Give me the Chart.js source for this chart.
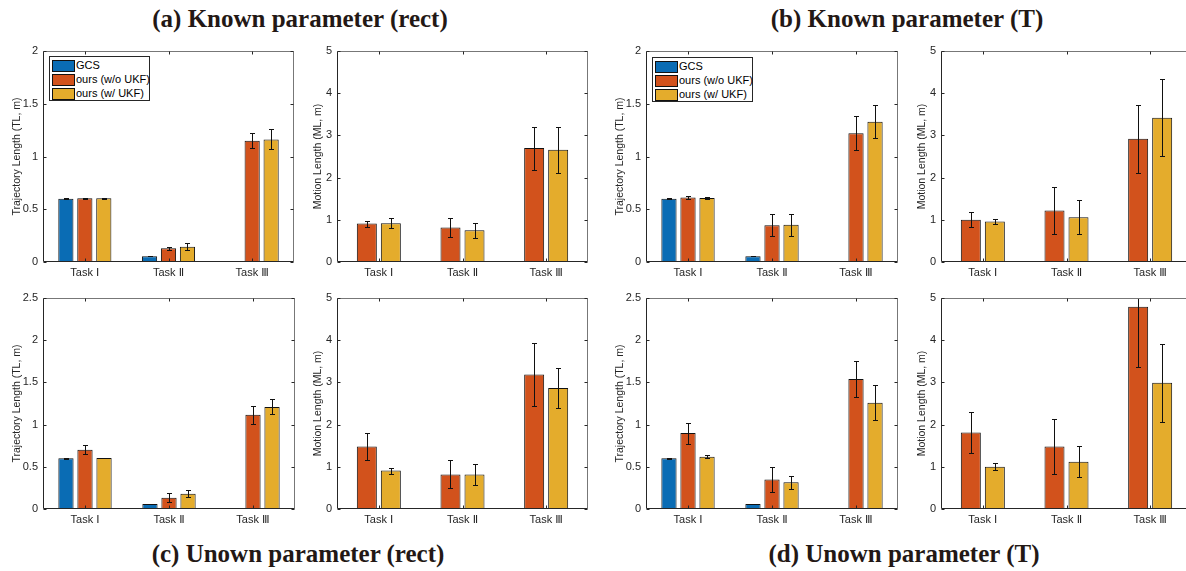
<!DOCTYPE html>
<html>
<head>
<meta charset="utf-8">
<script src="https://cdn.jsdelivr.net/npm/chart.js@4.4.1/dist/chart.umd.min.js"></script>
<style>
  body { margin: 0; width: 1186px; height: 571px; overflow: hidden; background: #fff; position: relative; }
  .panel { position: absolute; }
  .title { position: absolute; width: 600px; text-align: center; font-family: 'Liberation Serif', 'Times New Roman', serif;
           font-weight: bold; font-size: 25px; color: #231815; line-height: 1; }
  .legend { position: absolute; width: 99px; height: 43px; border: 1px solid #262626; background: #fff;
            font-family: 'Liberation Sans', Arial, sans-serif; font-size: 11px; color: #000; }
  .legend .row { position: absolute; left: 2px; height: 13px; line-height: 13px; white-space: nowrap; }
  .legend .sw { display: inline-block; width: 21px; height: 10px; border: 1px solid #111; vertical-align: top; margin-top: 1px; margin-right: 1px; }
</style>
</head>
<body>
<div class="title" style="left:0px;top:6px">(a) Known parameter (rect)</div>
<div class="title" style="left:607px;top:6px">(b) Known parameter (T)</div>
<div class="title" style="left:-2px;top:541px">(c) Unown parameter (rect)</div>
<div class="title" style="left:604px;top:541px">(d) Unown parameter (T)</div>

<script>
// ---- data ----
const tasks = ['Task Ⅰ', 'Task Ⅱ', 'Task Ⅲ'];
const names = ['GCS', 'ours (w/o UKF)', 'ours (w/ UKF)'];
const colors = ['#0a6cb4', '#d2521c', '#e4ac2c'];

// (a) known parameter (rect)
const aTL_gcs = [0.600, 0.055, 0.002];
const aTL_gcsErr = [0.003, 0.002, 0];
const aTL_wo = [0.604, 0.130, 1.150];
const aTL_woErr = [0.006, 0.012, 0.070];
const aTL_w = [0.604, 0.145, 1.162];
const aTL_wErr = [0.006, 0.033, 0.095];
const aML_wo = [0.91, 0.82, 2.70];
const aML_woErr = [0.07, 0.23, 0.51];
const aML_w = [0.92, 0.75, 2.66];
const aML_wErr = [0.12, 0.17, 0.55];

// (b) known parameter (T)
const bTL_gcs = [0.600, 0.055, 0.002];
const bTL_gcsErr = [0.003, 0.002, 0];
const bTL_wo = [0.612, 0.348, 1.220];
const bTL_woErr = [0.018, 0.105, 0.160];
const bTL_w = [0.606, 0.354, 1.330];
const bTL_wErr = [0.008, 0.105, 0.155];
const bML_wo = [1.00, 1.22, 2.92];
const bML_woErr = [0.18, 0.56, 0.80];
const bML_w = [0.96, 1.06, 3.42];
const bML_wErr = [0.06, 0.40, 0.91];

// (c) unknown parameter (rect)
const cTL_gcs = [0.600, 0.059, 0.002];
const cTL_gcsErr = [0.003, 0.003, 0];
const cTL_wo = [0.703, 0.134, 1.118];
const cTL_woErr = [0.050, 0.050, 0.105];
const cTL_w = [0.604, 0.180, 1.210];
const cTL_wErr = [0.005, 0.040, 0.090];
const cML_wo = [1.48, 0.82, 3.19];
const cML_woErr = [0.32, 0.33, 0.74];
const cML_w = [0.91, 0.82, 2.87];
const cML_wErr = [0.07, 0.24, 0.48];

// (d) unknown parameter (T)
const dTL_gcs = [0.600, 0.060, 0.002];
const dTL_gcsErr = [0.003, 0.003, 0];
const dTL_wo = [0.900, 0.351, 1.540];
const dTL_woErr = [0.124, 0.148, 0.215];
const dTL_w = [0.620, 0.316, 1.260];
const dTL_wErr = [0.020, 0.077, 0.207];
const dML_wo = [1.81, 1.48, 4.79];
const dML_woErr = [0.49, 0.66, 1.42];
const dML_w = [1.00, 1.12, 2.99];
const dML_wErr = [0.08, 0.37, 0.93];

const TL_TITLE = 'Trajectory Length (TL, m)';
const ML_TITLE = 'Motion Length (ML, m)';
const FONT = "'Liberation Sans', Arial, 'DejaVu Sans', sans-serif";
const AXIS = '#262626';

// error bars drawn from each bar element and the y scale
const errorBars = {
    id: 'errorBars',
    afterDatasetsDraw(chart) {
        const ctx = chart.ctx;
        const y = chart.scales.y;
        const a = chart.chartArea;
        ctx.save();
        ctx.beginPath();
        ctx.rect(a.left, a.top, a.right - a.left, a.bottom - a.top);
        ctx.clip();
        ctx.strokeStyle = '#111';
        ctx.lineWidth = 1;
        chart.data.datasets.forEach((ds, i) => {
            chart.getDatasetMeta(i).data.forEach((bar, j) => {
                const e = ds.errors[j];
                if (!e) return;
                const v = ds.data[j];
                const x = Math.round(bar.x) + 0.5;
                const top = Math.round(y.getPixelForValue(v + e)) + 0.5;
                const bot = Math.round(y.getPixelForValue(v - e)) + 0.5;
                ctx.beginPath();
                ctx.moveTo(x, top); ctx.lineTo(x, bot);
                ctx.moveTo(x - 2.5, top); ctx.lineTo(x + 2.5, top);
                ctx.moveTo(x - 2.5, bot); ctx.lineTo(x + 2.5, bot);
                ctx.stroke();
            });
        });
        ctx.restore();
    }
};

// MATLAB-style box with inward ticks
const boxAxes = {
    id: 'boxAxes',
    afterDraw(chart) {
        const ctx = chart.ctx;
        const a = chart.chartArea;
        const x = chart.scales.x, y = chart.scales.y;
        const L = Math.round(a.left) + 0.5, R = Math.round(a.right) - 0.5;
        const T = Math.round(a.top) + 0.5, B = Math.round(a.bottom) - 0.5;
        ctx.save();
        ctx.lineWidth = 1;
        ctx.strokeStyle = '#777';
        ctx.beginPath();
        ctx.moveTo(L, T); ctx.lineTo(R, T); ctx.lineTo(R, B);
        ctx.stroke();
        ctx.strokeStyle = AXIS;
        ctx.beginPath();
        ctx.moveTo(L, T); ctx.lineTo(L, B); ctx.lineTo(R, B);
        y.ticks.forEach(t => {
            const py = Math.round(y.getPixelForValue(t.value)) + 0.5;
            ctx.moveTo(L, py); ctx.lineTo(L + 3, py);
            ctx.moveTo(R, py); ctx.lineTo(R - 3, py);
        });
        chart.data.labels.forEach((_, i) => {
            const px = Math.round(x.getPixelForValue(i)) + 0.5;
            ctx.moveTo(px, T); ctx.lineTo(px, T + 3);
            ctx.moveTo(px, B); ctx.lineTo(px, B - 3);
        });
        ctx.stroke();
        ctx.restore();
    }
};

function bars(values, errors, color, label) {
    return { label, data: values, errors, backgroundColor: color, borderColor: '#111', borderWidth: 1, borderSkipped: false };
}

function makePanel(left, top, width, height, maxY, yTitle, datasets) {
    const yW = 43, padTop = 12, padRight = 10, xH = 24;
    const wrap = document.createElement('div');
    wrap.className = 'panel';
    wrap.style.left = (left - yW) + 'px';
    wrap.style.top = (top - padTop) + 'px';
    const canvas = document.createElement('canvas');
    canvas.width = yW + width + padRight;
    canvas.height = padTop + height + xH;
    wrap.appendChild(canvas);
    document.body.appendChild(wrap);

    const three = datasets.length === 3;
    new Chart(canvas, {
        type: 'bar',
        data: { labels: tasks, datasets },
        options: {
            responsive: false,
            animation: false,
            devicePixelRatio: 1,
            categoryPercentage: three ? 0.68 : 0.574,
            barPercentage: three ? 0.8 : 0.833,
            layout: { padding: { top: padTop, right: padRight, left: 0, bottom: 0 } },
            plugins: { legend: { display: false }, tooltip: { enabled: false } },
            scales: {
                x: {
                    grid: { display: false, drawTicks: false },
                    border: { display: false },
                    ticks: { color: AXIS, padding: 4, font: { family: FONT, size: 11 } },
                    afterFit: s => { s.height = xH; }
                },
                y: {
                    min: 0,
                    max: maxY,
                    ticks: { stepSize: maxY === 5 ? 1 : 0.5, color: AXIS, padding: 5, font: { family: FONT, size: 11 },
                             callback: v => String(Math.round(v * 10) / 10) },
                    grid: { display: false, drawTicks: false },
                    border: { display: false },
                    title: { display: true, text: yTitle, color: AXIS, font: { family: FONT, size: 10.5 },
                             padding: { top: yTitle === TL_TITLE ? 11 : 18, bottom: 0 } },
                    afterFit: s => { s.width = yW; }
                }
            }
        },
        plugins: [errorBars, boxAxes]
    });
}

function makeLegend(left, top) {
    const box = document.createElement('div');
    box.className = 'legend';
    box.style.left = left + 'px';
    box.style.top = top + 'px';
    names.forEach((n, i) => {
        const row = document.createElement('div');
        row.className = 'row';
        row.style.top = (2 + i * 14) + 'px';
        row.innerHTML = '<span class="sw" style="background:' + colors[i] + '"></span>' + n;
        box.appendChild(row);
    });
    document.body.appendChild(box);
}

// (a)
makePanel(43, 51, 251, 211, 2, TL_TITLE, [
    bars(aTL_gcs, aTL_gcsErr, colors[0], names[0]),
    bars(aTL_wo, aTL_woErr, colors[1], names[1]),
    bars(aTL_w, aTL_wErr, colors[2], names[2])
]);
makePanel(337, 51, 251, 211, 5, ML_TITLE, [
    bars(aML_wo, aML_woErr, colors[1], names[1]),
    bars(aML_w, aML_wErr, colors[2], names[2])
]);
// (b)
makePanel(646, 51, 252, 211, 2, TL_TITLE, [
    bars(bTL_gcs, bTL_gcsErr, colors[0], names[0]),
    bars(bTL_wo, bTL_woErr, colors[1], names[1]),
    bars(bTL_w, bTL_wErr, colors[2], names[2])
]);
makePanel(941, 51, 251, 211, 5, ML_TITLE, [
    bars(bML_wo, bML_woErr, colors[1], names[1]),
    bars(bML_w, bML_wErr, colors[2], names[2])
]);
// (c)
makePanel(43, 298, 252, 211, 2.5, TL_TITLE, [
    bars(cTL_gcs, cTL_gcsErr, colors[0], names[0]),
    bars(cTL_wo, cTL_woErr, colors[1], names[1]),
    bars(cTL_w, cTL_wErr, colors[2], names[2])
]);
makePanel(337, 298, 251, 211, 5, ML_TITLE, [
    bars(cML_wo, cML_woErr, colors[1], names[1]),
    bars(cML_w, cML_wErr, colors[2], names[2])
]);
// (d)
makePanel(646, 298, 252, 211, 2.5, TL_TITLE, [
    bars(dTL_gcs, dTL_gcsErr, colors[0], names[0]),
    bars(dTL_wo, dTL_woErr, colors[1], names[1]),
    bars(dTL_w, dTL_wErr, colors[2], names[2])
]);
makePanel(941, 298, 251, 211, 5, ML_TITLE, [
    bars(dML_wo, dML_woErr, colors[1], names[1]),
    bars(dML_w, dML_wErr, colors[2], names[2])
]);

makeLegend(49, 56);
makeLegend(652, 57);
</script>
</body>
</html>
